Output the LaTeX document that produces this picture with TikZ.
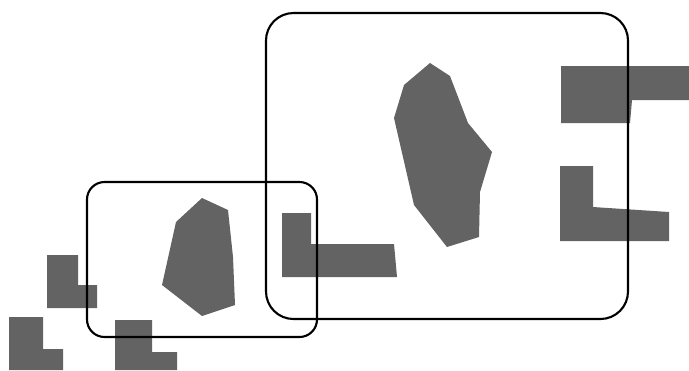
\documentclass[tikz,border=0pt]{standalone}
\usepackage{tikz}
\usepackage{xcolor}
\definecolor{ObstacleGray}{RGB}{99,99,99}
\begin{document}
\begin{tikzpicture}[
    x=0.02cm,y=-0.02cm,
    obst/.style={fill=ObstacleGray,draw=none},
    region/.style={draw=black,line width=1.2pt}
  ]
  \useasboundingbox (0,0) rectangle (689,370);
  % Obstacles
  \fill[obst] (430,63)--(450,76)--(468,123)--(492,152)--(480,192)--(479,237)
    --(447,247)--(414,205)--(394,118)--(404,85)--cycle;
  \fill[obst] (202,198)--(228,210)--(233,257)--(235,305)--(202,316)
    --(162,285)--(176,222)--cycle;
  \fill[obst] (282,213)--(311,213)--(311,244)--(394,244)--(397,277)--(282,277)--cycle;
  \fill[obst] (561,66)--(689,66)--(689,100)--(632,100)--(630,123)--(561,123)--cycle;
  \fill[obst] (560,166)--(593,166)--(593,207)--(669,212)--(669,241)--(560,241)--cycle;
  \fill[obst] (47,255)--(78,255)--(78,285)--(97,285)--(97,308)--(47,308)--cycle;
  \fill[obst] (9,317)--(43,317)--(43,349)--(63,349)--(63,370)--(9,370)--cycle;
  \fill[obst] (115,320)--(152,320)--(152,352)--(177,352)--(177,370)--(115,370)--cycle;
  % Regions
  \draw[region,rounded corners=0.55cm] (266,13) rectangle (628,319);
  \draw[region,rounded corners=0.35cm] (87,182) rectangle (317,337);
\end{tikzpicture}
\end{document}
